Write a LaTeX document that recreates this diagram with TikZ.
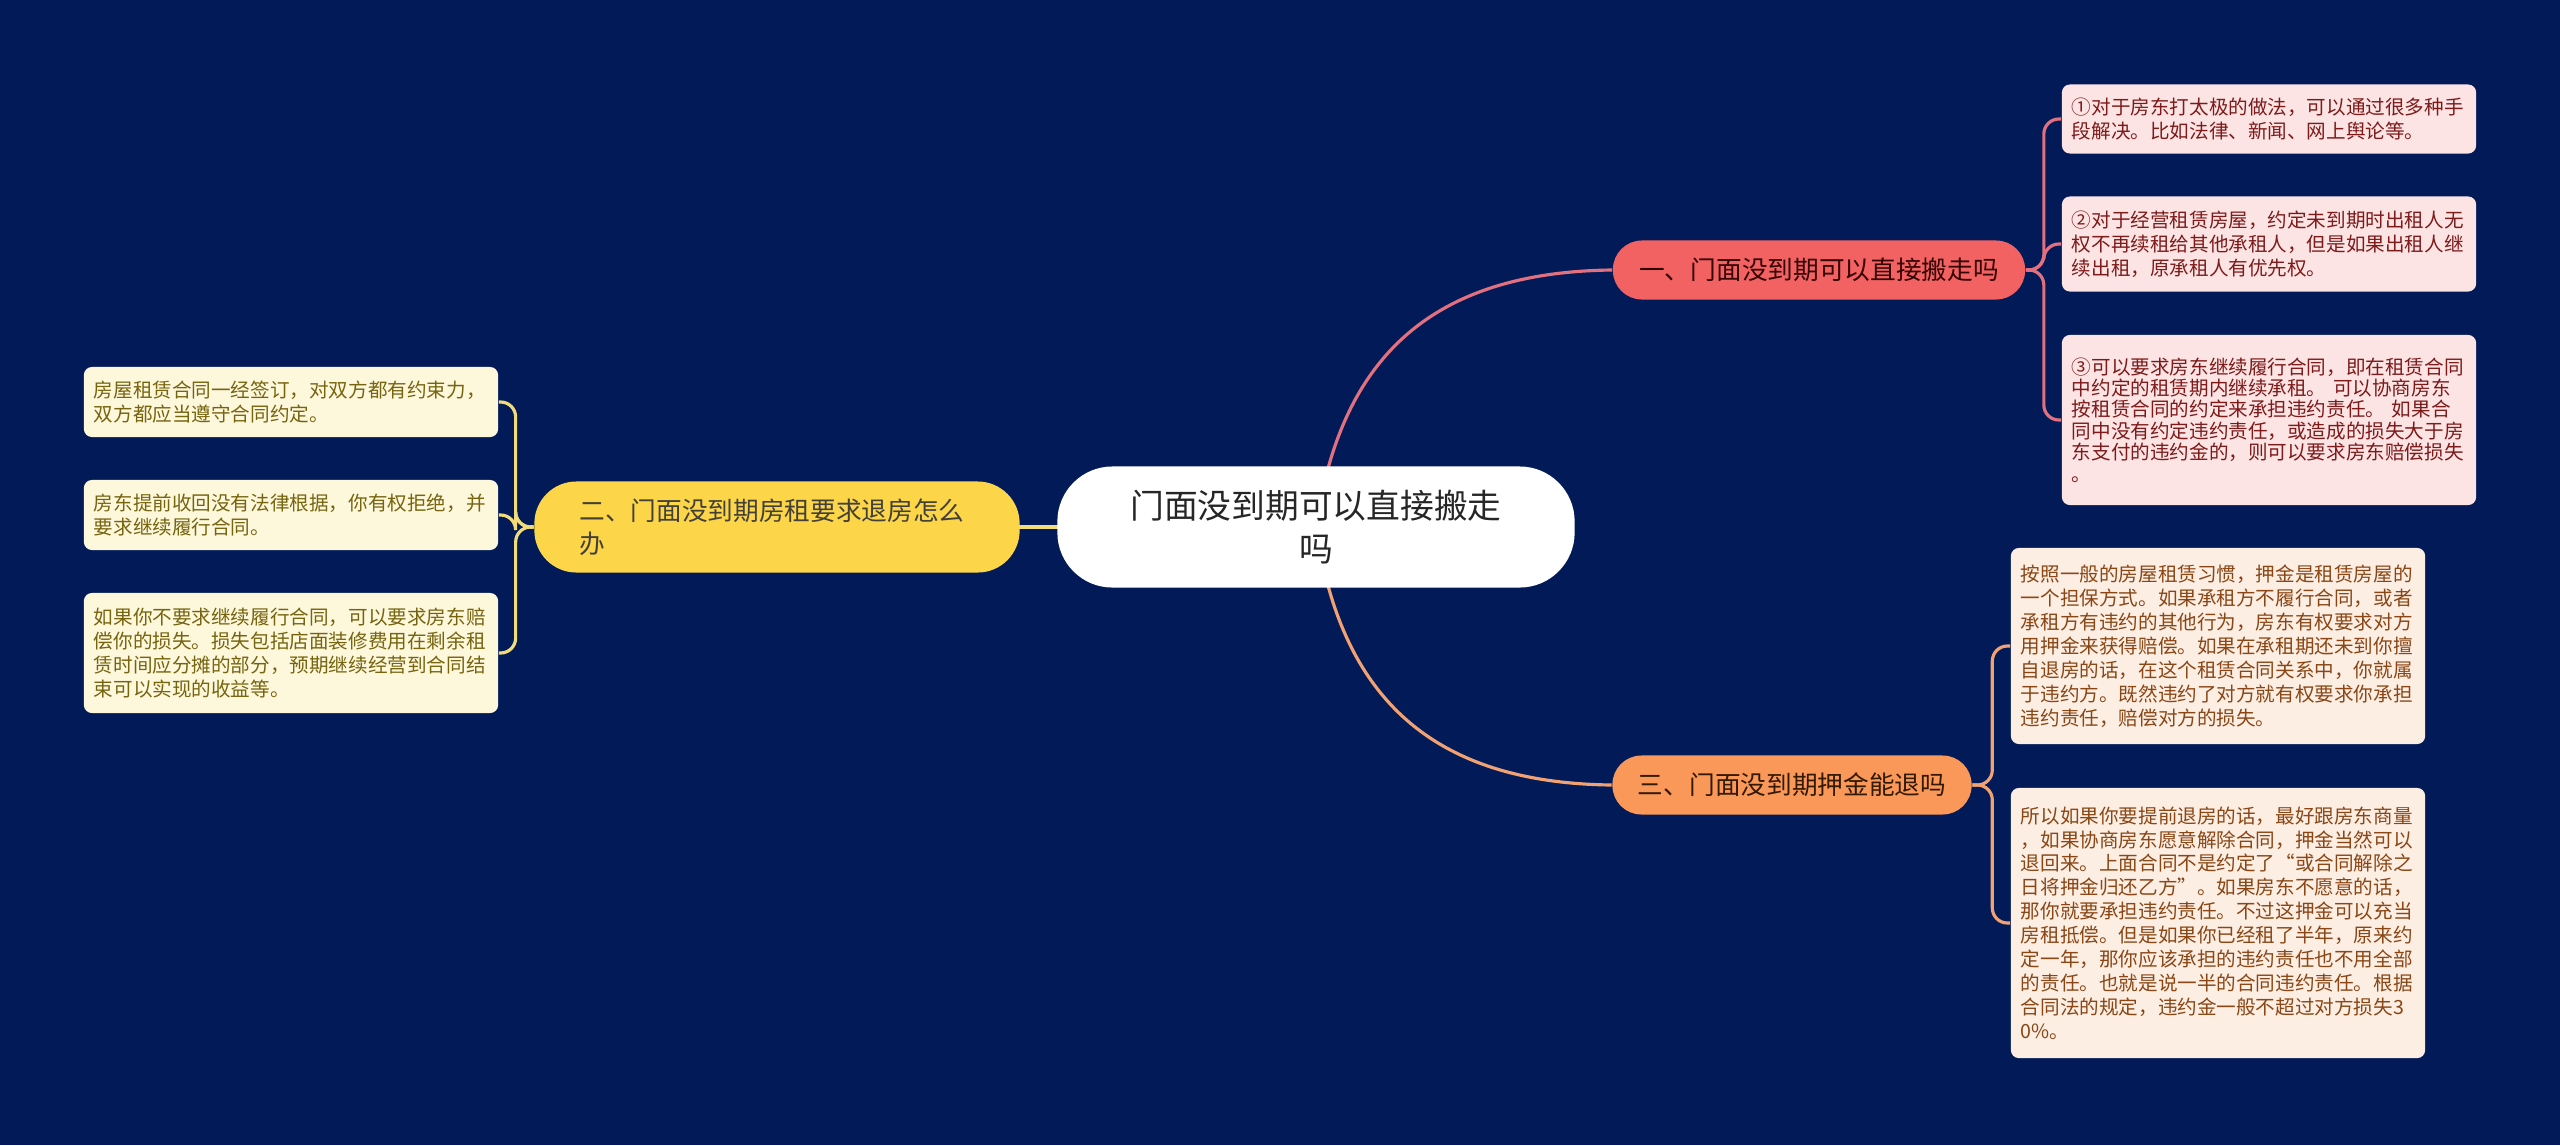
\documentclass[tikz,border=0pt]{standalone}
\usepackage{fontspec}
\setmainfont{Noto Sans CJK SC}
\definecolor{navy}{HTML}{021B58}
\definecolor{redfill}{HTML}{F26262}
\definecolor{redline}{HTML}{E2707E}
\definecolor{redleaf}{HTML}{FDE4E4}
\definecolor{redtext}{HTML}{7E1A1A}
\definecolor{orangefill}{HTML}{FA985A}
\definecolor{orangeline}{HTML}{F2A272}
\definecolor{orangeleaf}{HTML}{FDEEE4}
\definecolor{orangetext}{HTML}{8A4614}
\definecolor{yellowfill}{HTML}{FCD648}
\definecolor{yellowline}{HTML}{F2DC7A}
\definecolor{yellowleaf}{HTML}{FDF7DC}
\definecolor{yellowtext}{HTML}{76640F}
\pgfdeclarelayer{bg}
\pgfsetlayers{bg,main}
\begin{document}
\begin{tikzpicture}[
        x=0.01cm, y=-0.01cm,
        every node/.style={inner sep=0pt},
        topic/.style={fill=white, text=black!85, rounded corners=0.55cm, minimum width=5.17cm,
            minimum height=1.21cm, align=center, font=\fontsize{9.6}{12.5}\selectfont},
        branch/.style={rounded corners=0.29cm, minimum height=0.59cm, font=\fontsize{7.3}{9.4}\selectfont},
        leaf/.style={rounded corners=0.08cm, text width=3.94cm, inner xsep=0.1cm, align=left,
            font=\fontsize{5.57}{6.8}\selectfont},
        redbox/.style={leaf, fill=redleaf, text=redtext},
        orangebox/.style={leaf, fill=orangeleaf, text=orangetext},
        yellowbox/.style={leaf, fill=yellowleaf, text=yellowtext},
        link/.style={line width=0.9pt},
        bracket/.style={line width=0.9pt, rounded corners=0.15cm}
    ]
    \begin{pgfonlayer}{bg}
        \fill[navy] (0,0) rectangle (2560,1145);
    \end{pgfonlayer}
    \useasboundingbox (0,0) rectangle (2560,1145);

    \node[topic] (root) at (1316,527) {门面没到期可以直接搬走\\吗};

    \node[branch, fill=redfill, text=black!80!red, minimum width=4.12cm] (b1) at (1819,270)
        {一、门面没到期可以直接搬走吗};
    \node[branch, fill=orangefill, text=black!80!orange, minimum width=3.59cm] (b3) at (1792,785)
        {三、门面没到期押金能退吗};
    \node[branch, fill=yellowfill, text=black!85!yellow, minimum height=0.91cm, rounded corners=0.42cm,
        text width=3.95cm, inner xsep=0.45cm, align=left] (b2) at (777,527)
        {二、门面没到期房租要求退房怎么\\办};

    \node[redbox, minimum height=0.69cm] (l1a) at (2269,119)
        {①对于房东打太极的做法，可以通过很多种手\\段解决。比如法律、新闻、网上舆论等。};
    \node[redbox, minimum height=0.95cm] (l1b) at (2269,244)
        {②对于经营租赁房屋，约定未到期时出租人无\\权不再续租给其他承租人，但是如果出租人继\\续出租，原承租人有优先权。};
    \node[redbox, minimum height=1.70cm, font=\fontsize{5.57}{6.1}\selectfont] (l1c) at (2269,420)
        {③可以要求房东继续履行合同，即在租赁合同\\中约定的租赁期内继续承租。 可以协商房东\\按租赁合同的约定来承担违约责任。 如果合\\同中没有约定违约责任，或造成的损失大于房\\东支付的违约金的，则可以要求房东赔偿损失\\。};

    \node[orangebox, minimum height=1.96cm] (l3a) at (2218,646)
        {按照一般的房屋租赁习惯，押金是租赁房屋的\\一个担保方式。如果承租方不履行合同，或者\\承租方有违约的其他行为，房东有权要求对方\\用押金来获得赔偿。如果在承租期还未到你擅\\自退房的话，在这个租赁合同关系中，你就属\\于违约方。既然违约了对方就有权要求你承担\\违约责任，赔偿对方的损失。};
    \node[orangebox, minimum height=2.70cm] (l3b) at (2218,923)
        {所以如果你要提前退房的话，最好跟房东商量\\，如果协商房东愿意解除合同，押金当然可以\\退回来。上面合同不是约定了“或合同解除之\\日将押金归还乙方”。如果房东不愿意的话，\\那你就要承担违约责任。不过这押金可以充当\\房租抵偿。但是如果你已经租了半年，原来约\\定一年，那你应该承担的违约责任也不用全部\\的责任。也就是说一半的合同违约责任。根据\\合同法的规定，违约金一般不超过对方损失3\\0\%。};

    \node[yellowbox, minimum height=0.70cm] (l2a) at (291,402)
        {房屋租赁合同一经签订，对双方都有约束力，\\双方都应当遵守合同约定。};
    \node[yellowbox, minimum height=0.70cm] (l2b) at (291,515)
        {房东提前收回没有法律根据，你有权拒绝，并\\要求继续履行合同。};
    \node[yellowbox, minimum height=1.20cm] (l2c) at (291,653)
        {如果你不要求继续履行合同，可以要求房东赔\\偿你的损失。损失包括店面装修费用在剩余租\\赁时间应分摊的部分，预期继续经营到合同结\\束可以实现的收益等。};

    \begin{pgfonlayer}{bg}
        \draw[link, redline] (root.center) .. controls +(24,-167) and +(-183,2) .. (b1.west);
        \draw[link, orangeline] (root.center) .. controls +(24,167) and +(-183,-2) .. (b3.west);
        \draw[link, yellowline] (root.center) -- (b2.center);
        \foreach \l in {l1a,l1b,l1c}
            \draw[bracket, redline] (b1.east) -- ++(18,0) |- (\l.west);
        \foreach \l in {l3a,l3b}
            \draw[bracket, orangeline] (b3.east) -- ++(20,0) |- (\l.west);
        \foreach \l in {l2a,l2b,l2c}
            \draw[bracket, yellowline] (b2.west) -- ++(-18,0) |- (\l.east);
    \end{pgfonlayer}
\end{tikzpicture}
\end{document}
